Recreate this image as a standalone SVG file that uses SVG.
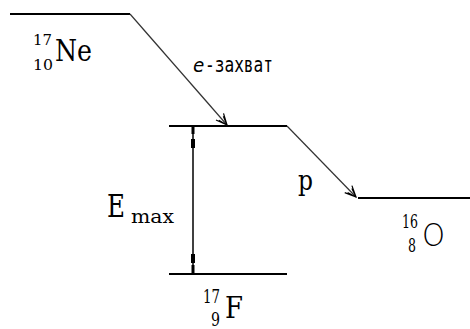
<svg xmlns="http://www.w3.org/2000/svg" width="470" height="329" viewBox="0 0 470 329">
<style>
.lvl{stroke:#000;stroke-width:2;fill:none}
.tr{stroke:#333;stroke-width:1.2;fill:none}
.sf{font-family:"DejaVu Serif","Liberation Serif",serif;fill:#000}
.ss{font-family:"DejaVu Sans","Liberation Sans",sans-serif;fill:#000}
.mo{font-family:"DejaVu Sans Mono","Liberation Mono",monospace;fill:#000}
</style>
<defs>
<marker id="ah" markerWidth="14" markerHeight="12" refX="12" refY="6" orient="auto" markerUnits="userSpaceOnUse">
<path d="M1,1 L12,6 L1,11 M3,3 L12,6 M3,9 L12,6" stroke="#000" stroke-width="1.2" fill="none"/>
</marker>
</defs>
<g id="levels">
<g id="ne17"><line class="lvl" x1="10" y1="14" x2="130" y2="14"/>
<text class="sf" x="33" y="45" font-size="15" textLength="19" lengthAdjust="spacingAndGlyphs">17</text>
<text class="sf" x="33" y="70" font-size="15" textLength="20" lengthAdjust="spacingAndGlyphs">10</text>
<text class="sf" x="55" y="61" font-size="30" textLength="37" lengthAdjust="spacingAndGlyphs">Ne</text></g>
<g id="f17"><line class="lvl" x1="169" y1="126" x2="287" y2="126"/><line class="lvl" x1="169" y1="274" x2="287" y2="274"/>
<text class="sf" x="203" y="303" font-size="18" textLength="17" lengthAdjust="spacingAndGlyphs">17</text>
<text class="sf" x="211" y="326" font-size="18" textLength="9" lengthAdjust="spacingAndGlyphs">9</text>
<text class="sf" x="225" y="318" font-size="30" textLength="18" lengthAdjust="spacingAndGlyphs">F</text></g>
<g id="o16"><line class="lvl" x1="358" y1="198" x2="470" y2="198"/>
<text class="sf" x="402" y="228" font-size="18" textLength="16" lengthAdjust="spacingAndGlyphs">16</text>
<text class="sf" x="408" y="252" font-size="18" textLength="8" lengthAdjust="spacingAndGlyphs">8</text>
<text class="ss" x="422" y="246" font-size="32" textLength="23" lengthAdjust="spacingAndGlyphs" font-weight="300">O</text></g>
</g>
<g id="connectors">
<line class="tr" x1="130" y1="14" x2="227" y2="125" marker-end="url(#ah)"/>
<line class="tr" x1="287" y1="126" x2="356" y2="197" marker-end="url(#ah)"/>
<line x1="193" y1="126" x2="193" y2="274" stroke="#000" stroke-width="1.5"/>
<rect x="191" y="139" width="4" height="9" fill="#000"/>
<rect x="191" y="254" width="4" height="9" fill="#000"/>
<line x1="193" y1="126" x2="193" y2="134" stroke="#000" stroke-width="3"/>
<line x1="193" y1="265" x2="193" y2="274" stroke="#000" stroke-width="3"/>
</g>
<g id="labels">
<text class="mo" x="193" y="72" font-size="19" font-style="italic">e</text>
<text class="mo" x="205" y="72" font-size="22" textLength="68" lengthAdjust="spacingAndGlyphs">-захват</text>
<text class="sf" x="107" y="217" font-size="32" textLength="18" lengthAdjust="spacingAndGlyphs">E</text>
<text class="sf" x="131" y="223" font-size="19" textLength="43" lengthAdjust="spacingAndGlyphs">max</text>
<text class="sf" x="298" y="190" font-size="27" textLength="15" lengthAdjust="spacingAndGlyphs">p</text>
</g>
</svg>
